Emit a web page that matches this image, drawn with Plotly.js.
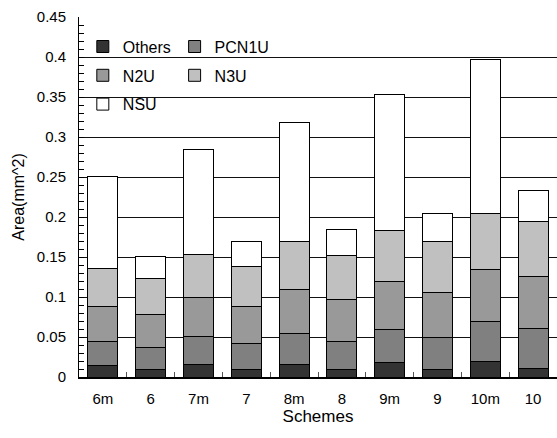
<!DOCTYPE html>
<html>
<head>
<meta charset="utf-8">
<script src="https://cdn.plot.ly/plotly-3.0.1.min.js"></script>
<style>html,body{margin:0;padding:0;background:#fff;}#chart{width:557px;height:438px;}</style>
</head>
<body>
<div id="chart"></div>
<script>
// Data
const categories = ['6m','6','7m','7','8m','8','9m','9','10m','10'];
const others = [0.015,0.009,0.016,0.010,0.016,0.010,0.018,0.010,0.020,0.011];
const pcn1u  = [0.030,0.028,0.035,0.032,0.039,0.035,0.042,0.040,0.049,0.050];
const n2u    = [0.043,0.041,0.049,0.046,0.055,0.052,0.060,0.056,0.066,0.065];
const n3u    = [0.048,0.045,0.053,0.050,0.060,0.055,0.063,0.064,0.069,0.069];
const nsu    = [0.115,0.028,0.132,0.032,0.148,0.033,0.170,0.034,0.193,0.038];
const seriesNames = ['Others','PCN1U','N2U','N3U','NSU'];
const yTickVals = [0,0.05,0.1,0.15,0.2,0.25,0.3,0.35,0.4,0.45];

const colors = ['#333333','#808080','#999999','#c0c0c0','#ffffff'];
const legendOf = ['legend','legend2','legend','legend2','legend'];
const vals = [others,pcn1u,n2u,n3u,nsu];

const font = 'Liberation Sans, Arial, sans-serif';
const data = vals.map((v,i)=>({
  type:'bar', x:categories, y:v, name:seriesNames[i],
  legend: legendOf[i], legendgroup: seriesNames[i],
  marker:{color:colors[i], line:{color:'#000', width:1}},
  hoverinfo:'skip'
}));

const legendCommon = {
  yanchor:'top', y:0.965, xanchor:'left',
  bgcolor:'rgba(0,0,0,0)', borderwidth:0,
  font:{family:font, size:16, color:'#000'},
  traceorder:'grouped', tracegroupgap:5, orientation:'v',
  itemwidth:30
};

const layout = {
  width:557, height:438,
  margin:{l:79, r:0, t:17, b:61, pad:0},
  paper_bgcolor:'#fff', plot_bgcolor:'#fff',
  barmode:'stack', bargap:0.37,
  font:{family:font, size:15, color:'#000'},
  showlegend:true,
  legend:Object.assign({}, legendCommon, {x:0.008}),
  legend2:Object.assign({}, legendCommon, {x:0.2}),
  xaxis:{
    type:'category', range:[-0.5,9.5], fixedrange:true,
    showline:true, linecolor:'#000', linewidth:2,
    ticks:'inside', tickson:'boundaries', ticklen:5, tickcolor:'#555', tickwidth:1,
    ticklabelstandoff:7,
    tickfont:{family:font, size:15, color:'#000'},
    showgrid:false, zeroline:false,
    title:{text:'Schemes', font:{family:font, size:17, color:'#000'}, standoff:2}
  },
  yaxis:{
    range:[0,0.45], tickvals:yTickVals, ticktext:yTickVals.map(v=>String(v)),
    showline:true, linecolor:'#000', linewidth:1,
    ticks:'inside', ticklen:5, tickcolor:'#000', tickwidth:1,
    ticklabelstandoff:9,
    tickfont:{family:font, size:15, color:'#000'},
    showgrid:true, gridcolor:'#111', gridwidth:1, zeroline:false,
    minor:{dtick:0.01, ticks:'inside', ticklen:5, tickcolor:'#000', showgrid:false},
    title:{text:'Area(mm^2)', font:{family:font, size:16, color:'#000'}, standoff:8}
  },
  shapes:[{
    type:'rect', xref:'paper', yref:'paper', layer:'between',
    x0:0.029, x1:0.427, y0:0.728, y1:0.96,
    fillcolor:'#fff', line:{width:0}
  }]
};

Plotly.newPlot('chart', data, layout, {displayModeBar:false, staticPlot:true});
</script>
</body>
</html>
